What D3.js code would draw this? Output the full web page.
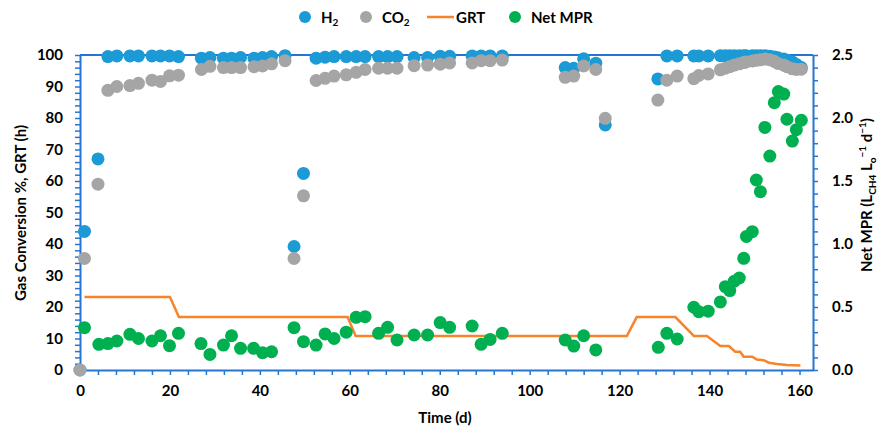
<!DOCTYPE html>
<html>
<head>
<meta charset="utf-8">
<script src="https://cdn.jsdelivr.net/npm/d3@7"></script>
<style>
  body { margin: 0; background: #fff; }
  text { font-family: Lato, "Open Sans", sans-serif; font-weight: bold; fill: #000; }
</style>
</head>
<body>
<div id="chart"></div>
<script>
// Gas conversion data (days + H2 / CO2 conversion %)
const gasDays = [0, 1, 4, 6.2, 8.2, 11.1, 13, 16, 17.9, 19.9, 21.9, 27, 28.9, 31.9, 33.7, 35.7, 38.7, 40.6, 42.6, 45.6,
  47.6, 49.7, 52.5, 54.5, 56.5, 59.2, 61.4, 63.4, 66.4, 68.4, 70.5, 74.3, 77.3, 80.1, 82.2, 87.2, 89.2, 91.2, 93.9,
  107.9, 109.8, 112, 114.7, 116.8, 128.5, 130.5, 132.8, 136.5, 137.6, 139.7,
  142.4, 143.5, 144.5, 145.5, 146.6, 147.6, 148.1, 149.5, 150.4, 151.3, 152.4,
  153.4, 154.4, 155.2, 156.5, 157.2, 158.4, 159.3, 160.4];
const h2Values = [0, 44, 67, 99.5, 99.7, 99.7, 99.7, 99.7, 99.7, 99.7, 99.5, 99, 99.2, 99, 99, 99.2, 99, 99.2, 99.5, 99.8,
  39.2, 62.4, 99, 99.3, 99.5, 99.5, 99.5, 99.5, 99.5, 99.5, 99.5, 99.2, 99.2, 99.6, 99.6, 99.7, 99.7, 99.7, 99.7,
  96, 95.8, 98.8, 97.4, 77.8, 92.4, 99.7, 99.7, 99.7, 99.7, 99.7,
  99.8, 99.8, 99.8, 99.8, 99.8, 99.8, 99.8, 99.8, 99.8, 99.8, 99.8,
  99.6, 99.4, 99.1, 98.7, 98.3, 97.8, 97, 96];
const co2Values = [0, 35.4, 59, 88.8, 90, 90.3, 91, 92, 91.6, 93.4, 93.6, 95.4, 96.4, 96, 96, 96, 96.3, 96.5, 97.2, 98.2,
  35.4, 55.3, 91.9, 92.6, 93.3, 93.7, 94.5, 95.4, 95.8, 95.8, 95.8, 96.6, 96.8, 97.1, 97.5, 97.5, 98.2, 98.2, 98.4,
  92.9, 93.3, 96.5, 95.4, 79.9, 85.7, 92, 93.3, 92.5, 93.5, 94,
  95.3, 95.8, 96.3, 96.8, 97.2, 97.6, 97.8, 98.1, 98.3, 98.5, 98.7,
  98.5, 98, 97.3, 96.8, 96.3, 95.6, 95.4, 95.5];

// Gas retention time (h)
const grtDays = [1, 20, 22, 59.5, 61.3, 121.6, 123.8, 132.4, 136.5, 139.4, 142.4, 144.3, 145.7, 146.8, 147.6, 149.5,
  150.5, 152, 153.2, 155, 157.2, 160.2];
const grtValues = [23.2, 23.2, 16.8, 16.8, 10.8, 10.8, 16.8, 16.8, 10.8, 10.8, 7.6, 7.6, 5.8, 5.8, 4.2, 4.2,
  3.3, 3.1, 2.3, 1.9, 1.6, 1.4];

// Net methane production rate (L/L/d)
const mprDays = [1, 4.2, 6.2, 8.2, 11.1, 13, 16, 17.9, 19.9, 21.9, 26.9, 28.9, 31.9, 33.7, 35.7, 38.6, 40.6, 42.6,
  47.6, 49.7, 52.5, 54.5, 56.5, 59.2, 61.4, 63.4, 66.4, 68.4, 70.5, 74.3, 77.3, 80.1, 82.2, 87.2, 89.2, 91.2, 93.9,
  107.9, 109.8, 112, 114.7, 128.6, 130.5, 132.8, 136.5, 137.6, 139.7,
  142.4, 143.5, 144.5, 145.5, 146.6, 147.6, 148.2, 149.5, 150.4, 151.3, 152.3, 153.4, 154.4, 155.3, 156.5, 157.2,
  158.4, 159.3, 160.4];
const mprValues = [0.336, 0.204, 0.21, 0.23, 0.283, 0.25, 0.23, 0.272, 0.193, 0.291, 0.21, 0.124, 0.198, 0.272, 0.172,
  0.172, 0.137, 0.145, 0.336, 0.225, 0.198, 0.286, 0.25, 0.3, 0.418, 0.423, 0.291, 0.339, 0.238, 0.278, 0.278, 0.376,
  0.339, 0.349, 0.204, 0.243, 0.291, 0.238, 0.19, 0.272, 0.159, 0.18, 0.291, 0.246, 0.498, 0.463, 0.467,
  0.54, 0.661, 0.63, 0.705, 0.73, 0.886, 1.06, 1.098, 1.508, 1.415, 1.925, 1.698, 2.122, 2.21, 2.19, 1.99,
  1.817, 1.907, 1.982];

const xLabels = [0, 20, 40, 60, 80, 100, 120, 140, 160];
const leftLabels = [0, 10, 20, 30, 40, 50, 60, 70, 80, 90, 100];
const rightLabels = [0, 0.5, 1, 1.5, 2, 2.5];

const axisColor = "#2576d2";
const colors = { h2: "#1b9ad6", co2: "#a5a5a5", grt: "#f7832a", mpr: "#00b050" };
const r = 6.5;

const width = 878, height = 428;
const plot = { left: 80, right: 813, top: 55, bottom: 370 };

const svg = d3.select("#chart").append("svg")
  .attr("width", width)
  .attr("height", height);

const x = d3.scaleLinear().domain([0, 163]).range([plot.left, plot.right]);
const yL = d3.scaleLinear().domain([0, 100]).range([plot.bottom, plot.top]);
const yR = d3.scaleLinear().domain([0, 2.5]).range([plot.bottom, plot.top]);

// top border
svg.append("line")
  .attr("x1", plot.left).attr("x2", plot.right)
  .attr("y1", plot.top).attr("y2", plot.top)
  .attr("stroke", axisColor).attr("stroke-width", 2);

function styleAxis(g) {
  g.selectAll(".domain").attr("stroke", axisColor).attr("stroke-width", 2);
  g.selectAll(".tick line").attr("stroke", axisColor).attr("stroke-width", 1.5);
  g.selectAll(".tick text").style("font-size", "15px").style("font-family", "Lato").style("font-weight", "bold");
  g.attr("font-family", null).attr("font-size", null);
}

// x axis
svg.append("g")
  .attr("transform", "translate(0," + plot.bottom + ")")
  .call(d3.axisBottom(x)
    .tickValues(d3.range(0, 161, 4))
    .tickSize(5).tickSizeOuter(0).tickPadding(10)
    .tickFormat(d => xLabels.includes(d) ? d : ""))
  .call(styleAxis);

// left axis
svg.append("g")
  .attr("transform", "translate(" + plot.left + ",0)")
  .call(d3.axisLeft(yL)
    .tickValues(d3.range(0, 101, 2))
    .tickSize(5).tickSizeOuter(0).tickPadding(12)
    .tickFormat(d => leftLabels.includes(d) ? d : ""))
  .call(styleAxis);

// right axis
svg.append("g")
  .attr("transform", "translate(" + plot.right + ",0)")
  .call(d3.axisRight(yR)
    .tickValues(d3.range(0, 26).map(i => i / 10))
    .tickSize(5).tickSizeOuter(0).tickPadding(14)
    .tickFormat(d => rightLabels.some(v => Math.abs(v - d) < 1e-9) ? d3.format(".1f")(d) : ""))
  .call(styleAxis);

// H2 points
svg.append("g").selectAll("circle")
  .data(gasDays.map((d, i) => [d, h2Values[i]]))
  .join("circle")
  .attr("cx", d => x(d[0])).attr("cy", d => yL(d[1])).attr("r", r)
  .attr("fill", colors.h2);

// CO2 points
svg.append("g").selectAll("circle")
  .data(gasDays.map((d, i) => [d, co2Values[i]]))
  .join("circle")
  .attr("cx", d => x(d[0])).attr("cy", d => yL(d[1])).attr("r", r)
  .attr("fill", colors.co2);

// GRT line
svg.append("path")
  .datum(grtDays.map((d, i) => [d, grtValues[i]]))
  .attr("fill", "none")
  .attr("stroke", colors.grt)
  .attr("stroke-width", 2.5)
  .attr("d", d3.line().x(d => x(d[0])).y(d => yL(d[1])));

// Net MPR points
svg.append("g").selectAll("circle")
  .data(mprDays.map((d, i) => [d, mprValues[i]]))
  .join("circle")
  .attr("cx", d => x(d[0])).attr("cy", d => yR(d[1])).attr("r", r)
  .attr("fill", colors.mpr);

// axis titles
svg.append("text")
  .attr("x", 445).attr("y", 423)
  .attr("text-anchor", "middle")
  .style("font-size", "15px")
  .text("Time (d)");

svg.append("text")
  .attr("transform", "translate(26,213) rotate(-90)")
  .attr("text-anchor", "middle")
  .style("font-size", "15px")
  .text("Gas Conversion %, GRT (h)");

const rt = svg.append("text")
  .attr("transform", "translate(872,195) rotate(-90)")
  .attr("text-anchor", "middle")
  .style("font-size", "15px");
rt.append("tspan").text("Net MPR (L");
rt.append("tspan").attr("dy", 4).style("font-size", "10px").text("CH4");
rt.append("tspan").attr("dy", -4).text(" L");
rt.append("tspan").attr("dy", 4).style("font-size", "10px").text("o");
rt.append("tspan").attr("dy", -10).style("font-size", "10px").text("−1");
rt.append("tspan").attr("dy", 6).text(" d");
rt.append("tspan").attr("dy", -6).style("font-size", "10px").text("−1");
rt.append("tspan").attr("dy", 6).text(")");

// legend
const legend = svg.append("g").attr("transform", "translate(0,17)");
legend.append("circle").attr("cx", 305).attr("cy", 0).attr("r", 6).attr("fill", colors.h2);
const t1 = legend.append("text").attr("x", 321).attr("y", 5.5).style("font-size", "15px");
t1.append("tspan").text("H");
t1.append("tspan").attr("dy", 3).style("font-size", "10px").text("2");

legend.append("circle").attr("cx", 366).attr("cy", 0).attr("r", 6).attr("fill", colors.co2);
const t2 = legend.append("text").attr("x", 382).attr("y", 5.5).style("font-size", "15px");
t2.append("tspan").text("CO");
t2.append("tspan").attr("dy", 3).style("font-size", "10px").text("2");

legend.append("line").attr("x1", 427).attr("x2", 454).attr("y1", 0).attr("y2", 0)
  .attr("stroke", colors.grt).attr("stroke-width", 2.5);
legend.append("text").attr("x", 456).attr("y", 5.5).style("font-size", "15px").text("GRT");

legend.append("circle").attr("cx", 515).attr("cy", 0).attr("r", 6).attr("fill", colors.mpr);
legend.append("text").attr("x", 531).attr("y", 5.5).style("font-size", "15px").text("Net MPR");
</script>
</body>
</html>
